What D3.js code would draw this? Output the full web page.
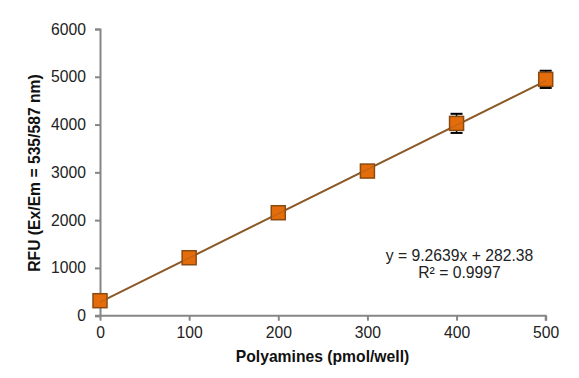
<!DOCTYPE html>
<html><head><meta charset="utf-8">
<script src="https://cdn.jsdelivr.net/npm/d3@7"></script>
<style>body{margin:0;background:#fff}svg{display:block}text{font-family:"Liberation Sans",Arial,sans-serif}</style>
</head><body><svg id="c" width="579" height="378"></svg>
<script>
const xValues = [0, 100, 200, 300, 400, 500];
const yValues = [314, 1213, 2155, 3027, 4025, 4946];
const yErrors = [40, 40, 40, 40, 200, 180];
const xTicks = [0, 100, 200, 300, 400, 500];
const yTicks = [0, 1000, 2000, 3000, 4000, 5000, 6000];
const slope = 9.2639, intercept = 282.38;
const eqLines = ["y = 9.2639x + 282.38", "R\u00B2 = 0.9997"];
const xTitle = "Polyamines (pmol/well)";
const yTitle = "RFU (Ex/Em = 535/587 nm)";

const FS = "15.7px";
const svg = d3.select("#c");
const x = d3.scaleLinear().domain([0, 500]).range([100, 545.7]);
const y = d3.scaleLinear().domain([0, 6000]).range([315.7, 29]);
const axisCol = "#868686";

const yAxis = svg.append("g").attr("transform", "translate(100,0)")
  .call(d3.axisLeft(y).tickValues(yTicks).tickSize(5).tickPadding(9).tickFormat(d3.format("d")));
const xAxis = svg.append("g").attr("transform", "translate(0,315.7)")
  .call(d3.axisBottom(x).tickValues(xTicks).tickSize(5).tickPadding(8).tickFormat(d3.format("d")));
[xAxis, yAxis].forEach(a => {
  a.select(".domain").attr("stroke", axisCol).attr("stroke-width", 2);
  a.selectAll(".tick line").attr("stroke", axisCol).attr("stroke-width", 2);
  a.selectAll("text").attr("fill", "#222").style("font-size", FS).style("font-family", '"Liberation Sans",Arial,sans-serif');
});
xAxis.select(".domain").attr("d", `M${x(0)-5},0H${x(500)}V5`);
xAxis.selectAll("text").attr("dy", "0.7em").attr("y", 11);

// trendline
svg.append("line")
  .attr("x1", x(0)).attr("y1", y(intercept))
  .attr("x2", x(500)).attr("y2", y(slope*500+intercept))
  .attr("stroke", "#8C5A28").attr("stroke-width", 2);

// error bars
const eb = svg.append("g");
xValues.forEach((xv, i) => {
  const cx = x(xv), t = y(yValues[i] + yErrors[i]), b = y(yValues[i] - yErrors[i]);
  eb.append("line").attr("x1", cx).attr("x2", cx).attr("y1", t).attr("y2", b).attr("stroke", "#000").attr("stroke-width", 1.5);
  eb.append("line").attr("x1", cx-6).attr("x2", cx+6).attr("y1", t).attr("y2", t).attr("stroke", "#000").attr("stroke-width", 2);
  eb.append("line").attr("x1", cx-6).attr("x2", cx+6).attr("y1", b).attr("y2", b).attr("stroke", "#000").attr("stroke-width", 2);
});

// markers
svg.append("g").selectAll("rect").data(xValues).join("rect")
  .attr("x", (d) => x(d) - 7).attr("y", (d, i) => y(yValues[i]) - 7)
  .attr("width", 14).attr("height", 14)
  .attr("fill", "#E46C0A").attr("stroke", "#8A4B12").attr("stroke-width", 1.5);

// trendline passing over markers faintly (as in Excel)
svg.append("line")
  .attr("x1", x(0)).attr("y1", y(intercept))
  .attr("x2", x(500)).attr("y2", y(slope*500+intercept))
  .attr("stroke", "#8C5A28").attr("stroke-width", 1).attr("opacity", 0.5);

// equation
svg.append("text").attr("x", 459.5).attr("y", 261).attr("text-anchor", "middle")
  .style("font-size", FS).attr("fill", "#222").text(eqLines[0]);
svg.append("text").attr("x", 459.5).attr("y", 278).attr("text-anchor", "middle")
  .style("font-size", FS).attr("fill", "#222").text(eqLines[1]);

// titles
svg.append("text").attr("x", 322.5).attr("y", 362).attr("text-anchor", "middle")
  .style("font-size", FS).style("font-weight", "bold").attr("fill", "#111").text(xTitle);
svg.append("text").attr("transform", "translate(40,173) rotate(-90)").attr("text-anchor", "middle")
  .style("font-size", FS).style("font-weight", "bold").attr("fill", "#111").text(yTitle);
</script></body></html>
